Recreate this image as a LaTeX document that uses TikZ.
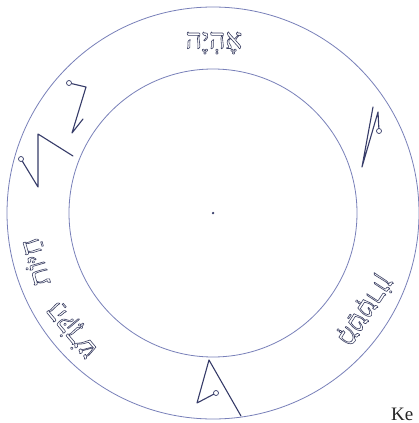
\documentclass[tikz,border=0pt]{standalone}
\usepackage{fontspec}
\setmainfont{Liberation Serif}
\newfontfamily\hebfont[Script=Hebrew]{Liberation Serif}
\TeXXeTstate=1
\definecolor{ring}{RGB}{120,128,185}
\definecolor{ink}{RGB}{55,60,105}
\definecolor{heb}{RGB}{60,65,100}
\newcommand{\hollow}[1]{\special{pdf:literal direct 1 Tr 0.6 w}#1\special{pdf:literal direct 0 Tr}}
\newcommand{\hebtxt}[1]{\hebfont\beginR #1\endR}
\begin{document}
\begin{tikzpicture}[x=1pt,y=-1pt,
  ringline/.style={draw=ring,line width=0.8pt},
  sigil/.style={draw=ink,line width=1.1pt,line join=round,line cap=round},
  sigstart/.style={circle,draw=ink,fill=white,line width=0.7pt,inner sep=0pt,minimum size=5pt},
  hebname/.style={text=heb,font=\fontsize{28}{28}\selectfont,inner sep=0pt}]
\clip (0,0) rectangle (419,423);
\fill[white] (0,0) rectangle (419,423);
\coordinate (c) at (213,213);
\draw[ringline] (c) circle (206pt);
\draw[ringline] (c) circle (144pt);
\node[circle,fill=ink,inner sep=0pt,minimum size=2.5pt] (dot) at (c) {};
% names
\node[hebname] (t1) at (214,43) {\hollow{\hebtxt{אֶהְיֶה}}};
\node[hebname,rotate=-123] (t2) at (365,310) {\hollow{\hebtxt{מְטַטְרוֹן}}};
\node[hebname,rotate=106] (t3) at (36,262) {\hollow{\hebtxt{חַיּוֹת}}};
\node[hebname,rotate=130] (t4) at (72,330) {\hollow{\hebtxt{הַקֹּדֶשׁ}}};
% sigil 1
\node[sigstart] (s1a) at (69,83) {};
\coordinate (s1b) at (86,87);
\coordinate (s1c) at (72,133);
\coordinate (s1d) at (83,119);
\draw[sigil] (s1a) -- (s1b) -- (s1c) -- (s1d);
% sigil 2
\node[sigstart] (s2a) at (21,159) {};
\coordinate (s2b) at (38,187);
\coordinate (s2c) at (38,134);
\coordinate (s2d) at (73,156);
\draw[sigil] (s2a) -- (s2b) -- (s2c) -- (s2d);
% sigil 3
\node[sigstart] (s3a) at (379,131) {};
\coordinate (s3b) at (378,112);
\coordinate (s3c) at (362,167);
\coordinate (s3d) at (373,107);
\draw[sigil] (s3a) -- (s3b) -- (s3c) -- (s3d);
% sigil 4
\node[sigstart] (s4a) at (216,393) {};
\coordinate (s4b) at (197,403);
\coordinate (s4c) at (209,360);
\coordinate (s4d) at (241,416);
\draw[sigil] (s4a) -- (s4b) -- (s4c) -- (s4d);
\node[anchor=base west,font=\fontsize{19}{19}\selectfont,text=black!85,inner sep=0pt] (key) at (391,420) {Ke};
\end{tikzpicture}
\end{document}
